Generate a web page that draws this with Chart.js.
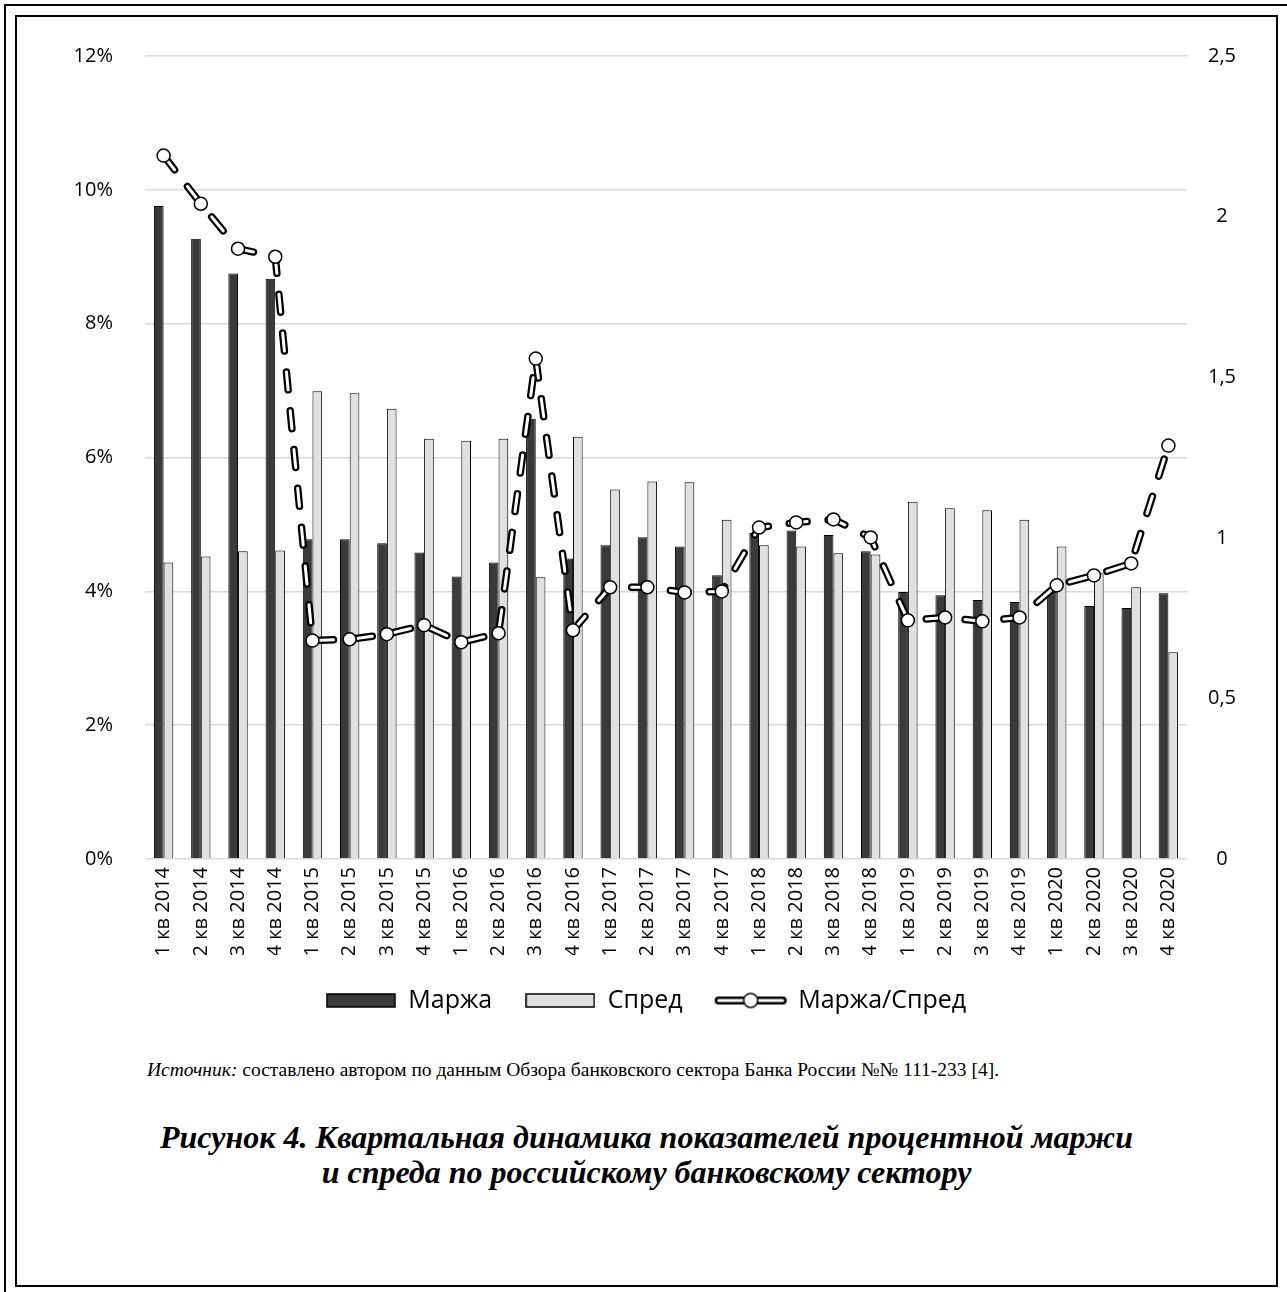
<!DOCTYPE html>
<html lang="ru">
<head>
<meta charset="utf-8">
<script src="https://cdn.jsdelivr.net/npm/chart.js@4.4.1/dist/chart.umd.min.js"></script>
<style>
  body { margin: 0; background: #fff; width: 1287px; height: 1292px; overflow: hidden; position: relative; }
  #outer { position: absolute; left: 4px; top: 4px; width: 1290px; height: 1300px; border-left: 2px solid #000; border-top: 2px solid #000; }
  #frame { position: absolute; left: 15px; top: 15px; width: 1263px; height: 1272px; box-sizing: border-box; border: 2px solid #000; }
  #chart { position: absolute; left: 20px; top: 12px; }
  .source { position: absolute; left: 147px; top: 1059px; font-family: "Liberation Serif", serif; font-size: 19.5px; color: #000; white-space: nowrap; }
  .caption { position: absolute; left: 15px; width: 1263px; top: 1120px; text-align: center; font-family: "Liberation Serif", serif; font-size: 32px; font-weight: bold; font-style: italic; line-height: 35px; color: #000; }
</style>
</head>
<body>
<div id="outer"></div>
<div id="frame"></div>
<canvas id="chart" width="1252" height="1011"></canvas>
<div class="source"><i>Источник:</i> составлено автором по данным Обзора банковского сектора Банка России №№ 111-233 [4].</div>
<div class="caption">Рисунок 4. Квартальная динамика показателей процентной маржи<br>и спреда по российскому банковскому сектору</div>
<script>
const years = ['2014', '2015', '2016', '2017', '2018', '2019', '2020'];
const quarters = ['1 кв', '2 кв', '3 кв', '4 кв'];
const labels = [];
years.forEach(y => quarters.forEach(q => labels.push(q + ' ' + y)));

// Маржа, %
const margin = [
  9.76, 9.27, 8.75, 8.67,
  4.78, 4.78, 4.72, 4.58,
  4.22, 4.43, 6.58, 4.49,
  4.69, 4.81, 4.67, 4.24,
  4.87, 4.91, 4.84, 4.60,
  3.99, 3.94, 3.87, 3.84,
  3.99, 3.78, 3.75, 3.97
];
// Спред, %
const spread = [
  4.43, 4.52, 4.60, 4.61,
  6.99, 6.96, 6.73, 6.28,
  6.25, 6.28, 4.21, 6.31,
  5.52, 5.64, 5.63, 5.07,
  4.69, 4.67, 4.57, 4.55,
  5.34, 5.24, 5.21, 5.07,
  4.67, 4.27, 4.06, 3.09
];
// Маржа/Спред
const ratio = [
  2.19, 2.04, 1.90, 1.875,
  0.68, 0.684, 0.70, 0.728,
  0.675, 0.703, 1.558, 0.712,
  0.846, 0.846, 0.830, 0.833,
  1.032, 1.048, 1.057, 1.001,
  0.743, 0.752, 0.740, 0.752,
  0.852, 0.883, 0.920, 1.287
];

const darkFill = '#3a3a3a';
const lightFill = '#e0e0e0';
const dash = [18, 21];

function boxIcon(fill) {
  const c = document.createElement('canvas');
  c.width = 70; c.height = 15;
  const g = c.getContext('2d');
  g.fillStyle = fill;
  g.fillRect(1, 1, 68, 13);
  g.strokeStyle = '#000';
  g.lineWidth = 1.5;
  g.strokeRect(1, 1, 68, 13);
  return c;
}

function lineIcon() {
  const c = document.createElement('canvas');
  c.width = 74; c.height = 20;
  const g = c.getContext('2d');
  g.lineCap = 'round';
  g.strokeStyle = '#000'; g.lineWidth = 8;
  g.beginPath(); g.moveTo(5, 10); g.lineTo(69, 10); g.stroke();
  g.strokeStyle = '#fff'; g.lineWidth = 3;
  g.beginPath(); g.moveTo(5, 10); g.lineTo(69, 10); g.stroke();
  g.fillStyle = '#fff'; g.strokeStyle = '#000'; g.lineWidth = 1.5;
  g.beginPath(); g.arc(37, 10, 7, 0, Math.PI * 2); g.fill(); g.stroke();
  return c;
}

const legendIcons = [boxIcon(darkFill), boxIcon(lightFill), lineIcon()];
const legendTexts = ['Маржа', 'Спред', 'Маржа/Спред'];

new Chart(document.getElementById('chart'), {
  type: 'bar',
  data: {
    labels: labels,
    datasets: [
      {
        label: 'Маржа',
        data: margin,
        yAxisID: 'y',
        backgroundColor: darkFill,
        borderColor: '#000',
        borderWidth: 1,
        barPercentage: 1,
        categoryPercentage: 0.52,
        order: 2
      },
      {
        label: 'Спред',
        data: spread,
        yAxisID: 'y',
        backgroundColor: lightFill,
        borderColor: '#000',
        borderWidth: 1,
        barPercentage: 1,
        categoryPercentage: 0.52,
        order: 3
      },
      {
        label: 'line-outline',
        type: 'line',
        data: ratio,
        yAxisID: 'y1',
        borderColor: '#000',
        borderWidth: 7.5,
        borderDash: dash,
        borderCapStyle: 'round',
        tension: 0,
        pointRadius: 0,
        order: 1
      },
      {
        label: 'Маржа/Спред',
        type: 'line',
        data: ratio,
        yAxisID: 'y1',
        borderColor: '#fff',
        borderWidth: 3,
        borderDash: dash,
        borderCapStyle: 'round',
        tension: 0,
        pointRadius: 6.5,
        pointBackgroundColor: '#fff',
        pointBorderColor: '#000',
        pointBorderWidth: 1.5,
        order: 0
      }
    ]
  },
  options: {
    responsive: false,
    animation: false,
    layout: { padding: { top: 19, bottom: 0, left: 0, right: 0 } },
    plugins: {
      tooltip: { enabled: false },
      legend: {
        position: 'bottom',
        labels: {
          usePointStyle: true,
          pointStyleWidth: 70,
          padding: 33,
          color: '#000',
          font: { family: 'Open Sans', size: 25 },
          generateLabels: () => legendTexts.map((t, i) => ({
            text: t,
            pointStyle: legendIcons[i],
            fillStyle: '#fff',
            strokeStyle: '#000',
            lineWidth: 0,
            hidden: false,
            datasetIndex: i
          }))
        }
      }
    },
    scales: {
      x: {
        grid: { display: false },
        border: { display: false },
        ticks: {
          color: '#000',
          font: { family: 'Open Sans', size: 20 },
          minRotation: 90,
          maxRotation: 90,
          autoSkip: false,
          padding: 0
        },
        afterFit: s => { s.height = 96; }
      },
      y: {
        position: 'left',
        min: 0,
        max: 12,
        border: { display: false },
        grid: { color: '#d9d9d9', lineWidth: 1.5, drawTicks: false },
        ticks: {
          stepSize: 2,
          padding: 32,
          color: '#000',
          font: { family: 'Open Sans', size: 20 },
          callback: v => v + '%'
        },
        afterFit: s => { s.width = 125; }
      },
      y1: {
        position: 'right',
        min: 0,
        max: 2.5,
        border: { display: false },
        grid: { display: false, drawTicks: false },
        ticks: {
          stepSize: 0.5,
          padding: 21,
          crossAlign: 'center',
          color: '#000',
          font: { family: 'Open Sans', size: 20 },
          callback: v => String(Math.round(v * 10) / 10).replace('.', ',')
        },
        afterFit: s => { s.width = 85; }
      }
    }
  }
});
</script>
</body>
</html>
